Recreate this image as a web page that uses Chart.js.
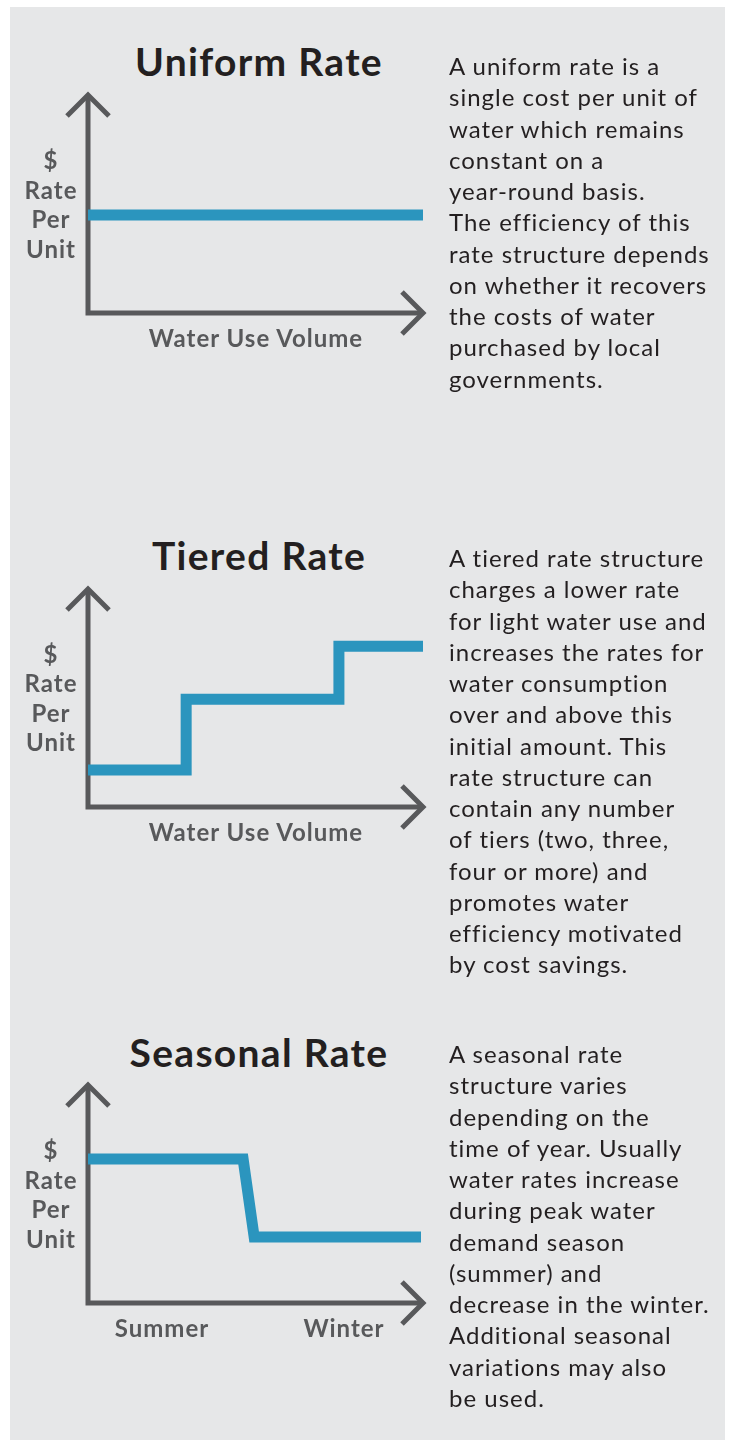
<!DOCTYPE html>
<html lang="en">
<head>
    <meta charset="utf-8"/>
    <script src="https://cdn.jsdelivr.net/npm/chart.js@4.4.0/dist/chart.umd.min.js"></script>
    <style>
        body { margin: 0; width: 731px; height: 1440px; background: #fff; position: relative; overflow: hidden; }
        #panel { position: absolute; left: 10px; top: 7px; width: 715px; height: 1433px; background: #e6e7e8; }
        canvas { position: absolute; }
        .title { position: absolute; width: 300px; text-align: center; font-family: Lato, sans-serif; font-weight: 700;
                 font-size: 39px; line-height: 38px; letter-spacing: 1.3px; color: #231f20; white-space: nowrap; }
        .ylab { position: absolute; width: 80px; text-align: center; font-family: Lato, sans-serif; font-weight: 700;
                font-size: 24px; line-height: 29.6px; letter-spacing: 1px; color: #58595b; }
        .xlab { position: absolute; text-align: center; font-family: Lato, sans-serif; font-weight: 700;
                font-size: 24px; line-height: 23px; letter-spacing: 1px; color: #58595b; white-space: nowrap; }
        .desc { position: absolute; left: 449px; font-family: Lato, sans-serif; font-weight: 400;
                font-size: 24px; line-height: 31.25px; letter-spacing: 1px; color: #231f20; white-space: nowrap; }
    </style>
</head>
<body>
    <div id="panel"></div>
    <script>
        // values (x: 0..10 along the axis, y: 0..10 up the axis)
        const uniformX = [0, 10];
        const uniformY = [4.5, 4.5];
        const tieredX = [0, 2.93, 2.93, 7.49, 7.49, 10];
        const tieredY = [1.7, 1.7, 4.94, 4.94, 7.37, 7.37];
        const seasonalX = [0, 4.63, 4.96, 9.94];
        const seasonalY = [6.6, 6.6, 3.03, 3.03];

        const yLabelLines = ["$", "Rate", "Per", "Unit"];
        const volumeLabel = "Water Use Volume";
        const seasonLabels = ["Summer", "Winter"];

        const uniformText = ["A uniform rate is a", "single cost per unit of", "water which remains", "constant on a",
            "year-round basis.", "The efficiency of this", "rate structure depends", "on whether it recovers",
            "the costs of water", "purchased by local", "governments."];
        const tieredText = ["A tiered rate structure", "charges a lower rate", "for light water use and",
            "increases the rates for", "water consumption", "over and above this", "initial amount. This",
            "rate structure can", "contain any number", "of tiers (two, three,", "four or more) and",
            "promotes water", "efficiency motivated", "by cost savings."];
        const seasonalText = ["A seasonal rate", "structure varies", "depending on the", "time of year. Usually",
            "water rates increase", "during peak water", "demand season", "(summer) and",
            "decrease in the winter.", "Additional seasonal", "variations may also", "be used."];

        const AXIS_COLOR = "#58595b";
        const LINE_COLOR = "#2b95be";

        // draws the two axis lines with chevron arrow heads along the chart area edges
        const arrowAxes = {
            id: "arrowAxes",
            beforeDatasetsDraw(chart) {
                const a = chart.chartArea;
                const ctx = chart.ctx;
                const arm = 21;
                ctx.save();
                ctx.strokeStyle = AXIS_COLOR;
                ctx.lineWidth = 5;
                ctx.lineJoin = "miter";
                ctx.lineCap = "butt";
                ctx.beginPath();
                ctx.moveTo(a.left, a.top);
                ctx.lineTo(a.left, a.bottom);
                ctx.lineTo(a.right, a.bottom);
                ctx.stroke();
                ctx.beginPath();
                ctx.moveTo(a.left - arm, a.top + arm);
                ctx.lineTo(a.left, a.top);
                ctx.lineTo(a.left + arm, a.top + arm);
                ctx.stroke();
                ctx.beginPath();
                ctx.moveTo(a.right - arm, a.bottom - arm);
                ctx.lineTo(a.right, a.bottom);
                ctx.lineTo(a.right - arm, a.bottom + arm);
                ctx.stroke();
                ctx.restore();
            }
        };

        function addText(cls, html, style) {
            const d = document.createElement("div");
            d.className = cls;
            d.innerHTML = html;
            Object.assign(d.style, style);
            document.body.appendChild(d);
        }

        function setupChart(xs, ys, top) {
            const canvas = document.createElement("canvas");
            canvas.width = 400;
            canvas.height = 270;
            canvas.style.left = "55px";
            canvas.style.top = (top - 20) + "px";
            document.body.appendChild(canvas);
            new Chart(canvas, {
                type: "line",
                data: {
                    datasets: [{
                        data: xs.map((x, i) => ({x: x, y: ys[i]})),
                        borderColor: LINE_COLOR,
                        borderWidth: 11,
                        borderJoinStyle: "miter",
                        borderCapStyle: "butt",
                        pointRadius: 0,
                        tension: 0,
                        clip: false
                    }]
                },
                options: {
                    responsive: false,
                    animation: false,
                    devicePixelRatio: 1,
                    layout: {padding: {left: 33, right: 400 - 33 - 335, top: 20, bottom: 270 - 20 - 218}},
                    plugins: {legend: {display: false}, tooltip: {enabled: false}},
                    scales: {
                        x: {type: "linear", min: 0, max: 10, display: false},
                        y: {type: "linear", min: 0, max: 10, display: false}
                    }
                },
                plugins: [arrowAxes]
            });
        }

        function scenario(title, titleTop, chartTop, xs, ys, xLabelHtml, text, textTop) {
            addText("title", title, {left: "109px", top: titleTop + "px"});
            setupChart(xs, ys, chartTop);
            addText("ylab", yLabelLines.join("<br>"), {left: "11px", top: (chartTop + 50) + "px"});
            xLabelHtml(chartTop);
            addText("desc", text.join("<br>"), {top: textTop + "px"});
        }

        scenario("Uniform Rate", 42, 95, uniformX, uniformY, function(t) {
            addText("xlab", volumeLabel, {left: "106px", width: "300px", top: (t + 231) + "px"});
        }, uniformText, 50);

        scenario("Tiered Rate", 536, 588.5, tieredX, tieredY, function(t) {
            addText("xlab", volumeLabel, {left: "106px", width: "300px", top: (t + 231) + "px"});
        }, tieredText, 542);

        scenario("Seasonal Rate", 1033, 1085, seasonalX, seasonalY, function(t) {
            addText("xlab", seasonLabels[0], {left: "102px", width: "120px", top: (t + 231) + "px"});
            addText("xlab", seasonLabels[1], {left: "284px", width: "120px", top: (t + 231) + "px"});
        }, seasonalText, 1038);
    </script>
</body>
</html>
